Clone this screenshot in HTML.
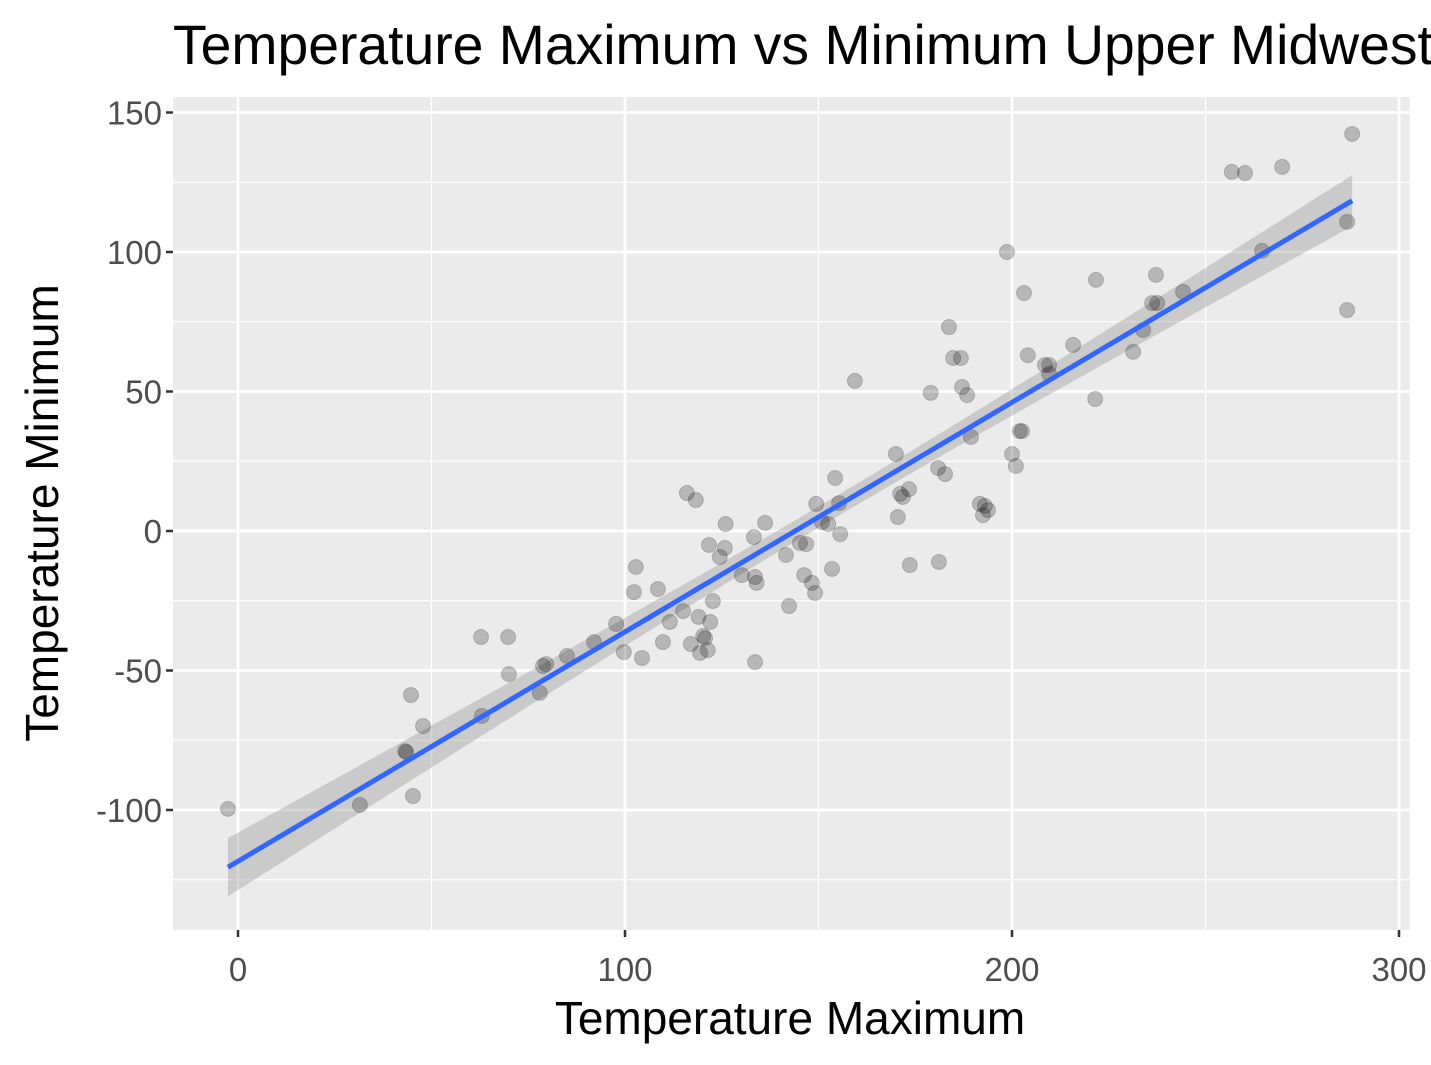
<!DOCTYPE html>
<html><head><meta charset="utf-8"><style>
html,body{margin:0;padding:0;background:#fff;overflow:hidden;}
svg{display:block;font-family:"Liberation Sans",Arial,sans-serif;}
</style></head><body>
<svg id="chart" width="1431" height="1065" viewBox="0 0 1431 1065">
<text x="173" y="64" font-size="55.3" fill="#000">Temperature Maximum vs Minimum Upper Midwest</text>
<rect x="173" y="97" width="1237" height="833" fill="#ebebeb"/>
<g id="grid"></g>
<g id="band"></g>
<g id="pts"></g>
<g id="fit"></g>
<g id="axes"></g>
<text x="790" y="1034" font-size="46" text-anchor="middle" fill="#000">Temperature Maximum</text>
<text transform="translate(58,513) rotate(-90)" font-size="46" text-anchor="middle" fill="#000">Temperature Minimum</text>
</svg>
<script>
const xTicks=[0,100,200,300];
const yTicks=[-100,-50,0,50,100,150];
const xMinor=[50,150,250];
const yMinor=[-125,-75,-25,25,75,125];
const tmax=[-2.6,31.5,43.2,43.5,44.7,45.2,47.8,62.8,63,69.8,70,78,78.8,79.6,85,92,97.7,99.7,102.8,102.3,104.4,108.5,109.8,111.6,115,116,117,118.3,119,119.4,120.2,120.7,121.4,121.7,122,122.7,124.5,125.8,126,130.2,133.3,133.6,134,133.6,136.2,141.6,142.4,145.2,146.8,146.3,148.3,149.1,149.4,150.9,152.5,153.5,154.3,155.6,155.3,159.4,170,170.5,171.1,171.8,173.4,173.6,179,180.9,181.1,182.7,183.7,184.8,186.8,187.1,188.4,189.4,191.7,192.5,193,193.8,198.7,200,201,202,202.6,203.1,204.1,208.5,209.6,209.6,215.8,221.5,221.7,231.3,233.9,236.2,237.5,237.2,244.2,256.8,260.2,264.6,269.8,286.6,286.6,287.9];
const tmin=[-99.6,-98.2,-78.9,-79.3,-58.8,-95,-69.9,-38,-66.3,-38,-51.3,-58,-48.4,-47.7,-44.8,-39.8,-33.3,-43.4,-12.9,-21.9,-45.5,-20.8,-39.8,-32.6,-28.7,13.6,-40.5,11.1,-30.8,-43.7,-37.6,-38.4,-42.7,-5,-32.6,-25.1,-9.3,-6.1,2.5,-15.8,-2.2,-16.5,-18.6,-47,2.9,-8.6,-26.9,-4.3,-4.7,-15.8,-18.6,-22.2,9.7,3.2,2.5,-13.6,19,-1.1,10,53.8,27.6,5,13.3,12.2,15,-12.2,49.5,22.6,-11.1,20.4,73.1,62,62,51.6,48.7,33.7,9.7,5.7,9,7.5,100,27.6,23.3,35.8,35.8,85.3,63,59.5,59.5,56.3,66.7,47.3,90,64.2,72,81.7,81.7,91.8,85.7,128.7,128.3,100.4,130.5,110.8,79.2,142.3];
const NS='http://www.w3.org/2000/svg';
const X0=173,X1=1410,Y0=97,Y1=930;
const xs=v=>238+v*3.87, ys=v=>531-v*2.79;
function mk(p,t,a){const e=document.createElementNS(NS,t);for(const k in a)e.setAttribute(k,a[k]);p.appendChild(e);return e;}
const grid=document.getElementById('grid'),axes=document.getElementById('axes');
xMinor.forEach(v=>{const l=mk(grid,'line',{x1:xs(v),x2:xs(v),y1:Y0,y2:Y1,stroke:'#fff','stroke-width':1.3});

});
yMinor.forEach(v=>{const l=mk(grid,'line',{x1:X0,x2:X1,y1:ys(v),y2:ys(v),stroke:'#fff','stroke-width':1.3});

});
xTicks.forEach(v=>{const l=mk(grid,'line',{x1:xs(v),x2:xs(v),y1:Y0,y2:Y1,stroke:'#fff','stroke-width':2.7});


const t=mk(axes,'line',{x1:xs(v),x2:xs(v),y1:Y1,y2:Y1+7,stroke:'#333','stroke-width':2.5});


const s=mk(axes,'text',{x:xs(v),y:981,'font-size':33,'text-anchor':'middle',fill:'#4d4d4d'});s.textContent=v;

});
yTicks.forEach(v=>{const l=mk(grid,'line',{x1:X0,x2:X1,y1:ys(v),y2:ys(v),stroke:'#fff','stroke-width':2.7});


const t=mk(axes,'line',{x1:X0-7,x2:X0,y1:ys(v),y2:ys(v),stroke:'#333','stroke-width':2.5});


const s=mk(axes,'text',{x:X0-11,y:ys(v)+12,'font-size':33,'text-anchor':'end',fill:'#4d4d4d'});s.textContent=v;

});
const pts=document.getElementById('pts');
tmax.forEach((v,i)=>{const c=mk(pts,'circle',{cx:xs(v),cy:ys(tmin[i]),r:7.5,fill:'rgba(0,0,0,0.22)',stroke:'rgba(0,0,0,0.18)','stroke-width':1});

});
const n=tmax.length;let mx=0,my=0;for(let i=0;i<n;i++){mx+=tmax[i];my+=tmin[i];}mx/=n;my/=n;
let sxx=0,sxy=0;for(let i=0;i<n;i++){sxx+=(tmax[i]-mx)**2;sxy+=(tmax[i]-mx)*(tmin[i]-my);}
const b=sxy/sxx,a=my-b*mx;let sse=0;for(let i=0;i<n;i++)sse+=(tmin[i]-a-b*tmax[i])**2;
const s=Math.sqrt(sse/(n-2));
const lo=Math.min(...tmax),hi=Math.max(...tmax);
const up=[],dn=[],ln=[];
for(let k=0;k<=80;k++){const x=lo+(hi-lo)*k/80,y=a+b*x,se=1.98*s*Math.sqrt(1/n+(x-mx)**2/sxx);
up.push(xs(x)+','+ys(y+se));dn.push(xs(x)+','+ys(y-se));ln.push(xs(x)+','+ys(y));}
const band=mk(document.getElementById('band'),'polygon',{points:up.concat(dn.reverse()).join(' '),fill:'rgba(153,153,153,0.4)'});


const fl=mk(document.getElementById('fit'),'polyline',{points:ln.join(' '),fill:'none',stroke:'#3366FF','stroke-width':5});


</script>
</body></html>
